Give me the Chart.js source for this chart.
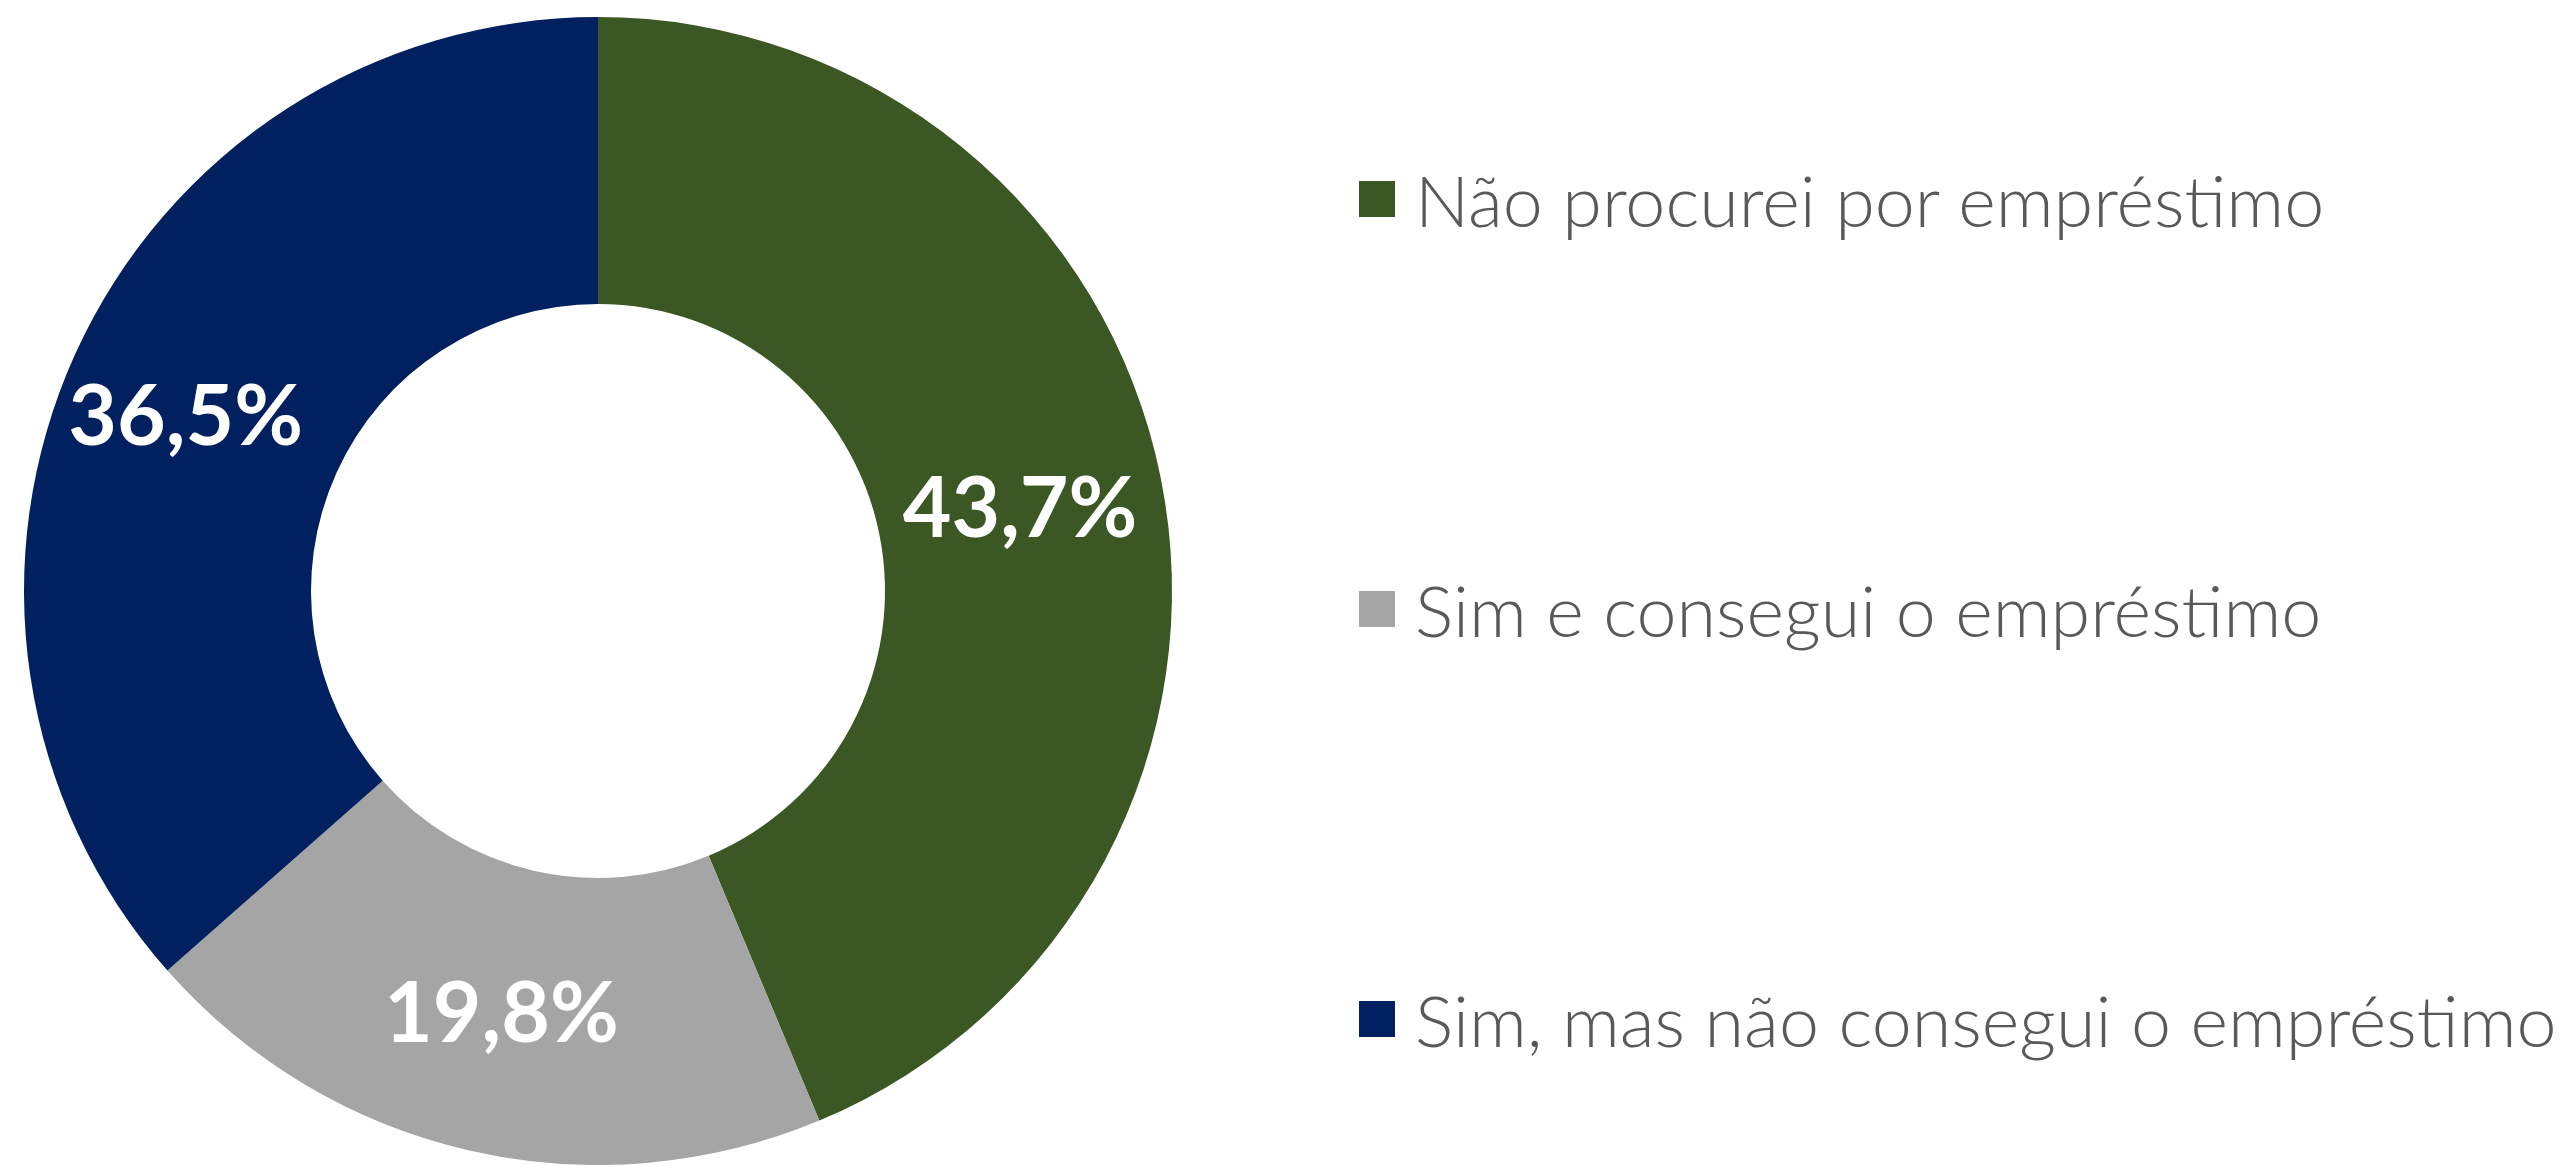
<!DOCTYPE html>
<html>
<head>
<meta charset="utf-8">
<script src="https://cdn.jsdelivr.net/npm/chart.js@4"></script>
<style>
  html, body { margin: 0; padding: 0; background: #fff; }
  #wrap { position: relative; width: 2574px; height: 1165px; overflow: hidden; }
  #chart { position: absolute; left: 0; top: 0; }
  .leg { position: absolute; left: 1359px; height: 80px; display: flex; align-items: center;
         font-family: "Lato", "Open Sans", sans-serif; font-weight: 300; color: #595959; white-space: nowrap; }
  .leg span.box { display: inline-block; width: 36px; height: 36px; margin-right: 20px; }
</style>
</head>
<body>
<div id="wrap">
  <canvas id="chart" width="2574" height="1165"></canvas>
</div>
<script>
const labels = [
  "Não procurei por empréstimo",
  "Sim e consegui o empréstimo",
  "Sim, mas não consegui o empréstimo"
];
const values = [43.7, 19.8, 36.5];
const colors = ["#3A5724", "#A5A5A5", "#002060"];

// percent labels on slices
const sliceLabels = {
  id: "sliceLabels",
  afterDatasetsDraw(chart) {
    const ctx = chart.ctx;
    const meta = chart.getDatasetMeta(0);
    ctx.save();
    ctx.fillStyle = "#fff";
    ctx.font = "bold 84px Lato, 'Open Sans', sans-serif";
    ctx.textAlign = "center";
    ctx.textBaseline = "middle";
    meta.data.forEach((arc, i) => {
      const p = arc.tooltipPosition();
      let dx = i == 2 ? -20 : 0;
      ctx.fillText(values[i].toFixed(1).replace(".", ",") + "%", p.x + dx, p.y + 4);
    });
    ctx.restore();
  }
};

new Chart(document.getElementById("chart"), {
  type: "doughnut",
  data: {
    labels: labels,
    datasets: [{
      data: values,
      backgroundColor: colors,
      borderWidth: 0,
      hoverOffset: 0
    }]
  },
  options: {
    responsive: false,
    animation: false,
    cutout: "50%",
    layout: { padding: { left: 24, top: 17, right: 1402, bottom: 0 } },
    plugins: {
      legend: { display: false },
      tooltip: { enabled: false }
    }
  },
  plugins: [sliceLabels]
});

// legend as html
const wrap = document.getElementById("wrap");
const legY = [199, 609, 1019];
const mctx = document.createElement("canvas").getContext("2d");
mctx.font = "300 60px Lato";
let fs = 60 * 911 / mctx.measureText(labels[0]).width;
labels.forEach((t, i) => {
  const d = document.createElement("div");
  d.className = "leg";
  d.style.top = (legY[i] - 40) + "px";
  d.style.fontSize = fs + "px";
  d.innerHTML = '<span class="box" style="background:' + colors[i] + '"></span>';
  d.appendChild(document.createTextNode(t));
  wrap.appendChild(d);
});
</script>
</body>
</html>
